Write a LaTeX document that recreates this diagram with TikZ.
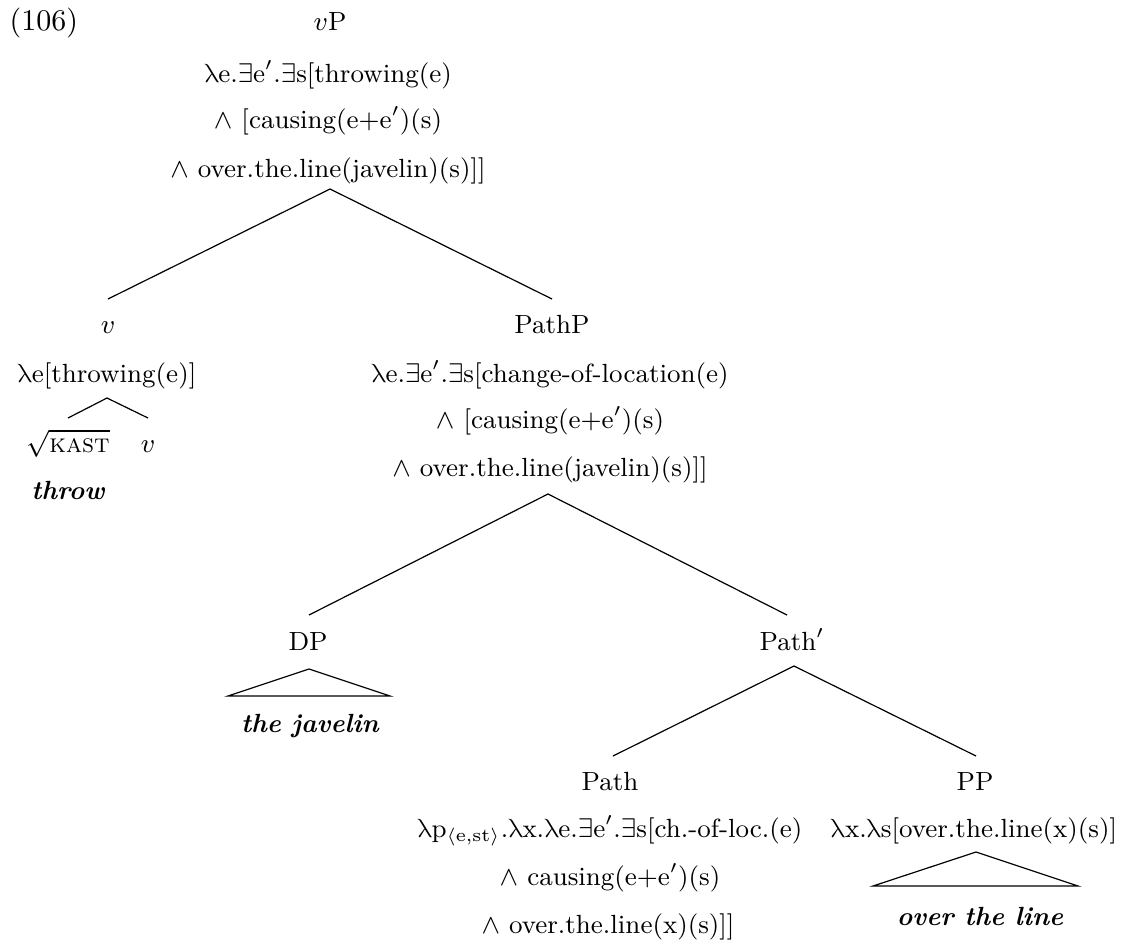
\documentclass[tikz,border=0pt]{standalone}
\usepackage{amsmath}
\usepackage{fontspec}
\newfontfamily\lmmathfont{Latin Modern Math}
\newcommand{\lam}{{\lmmathfont λ}}
\begin{document}
\begin{tikzpicture}[x=0.3333pt,y=-0.3333pt,
  lbl/.style={anchor=base,inner sep=0pt,outer sep=0pt,font=\fontsize{8.76}{10.5}\selectfont},
  branch/.style={line width=0.4pt},
  leafword/.style={lbl,font=\fontsize{8.76}{10.5}\selectfont\bfseries\itshape}]
\useasboundingbox (0,0) rectangle (1125,944);
% example number
\node[anchor=base west,inner sep=0pt] (ex) at (9,30) {(106)};
% vP
\node[lbl] (vP) at (330,30) {$v$P};
\node[lbl] (vPa) at (328,82) {\lam e.$\exists$e$'$.$\exists$s[throwing(e)};
\node[lbl] (vPb) at (328,128) {$\wedge$ [causing(e+e$'$)(s)};
\node[lbl] (vPc) at (328,177) {$\wedge$ over.the.line(javelin)(s)]]};
\coordinate (vPtop) at (330,189);
% v
\coordinate (vtop) at (108,299);
\node[lbl] (v) at (108,333) {$v$};
\node[lbl] (va) at (107,382) {\lam e[throwing(e)]};
\coordinate (vatop) at (107,398);
\coordinate (roottop) at (68,418);
\coordinate (vheadtop) at (148,418);
\node[lbl] (root) at (68,452) {$\sqrt{\textsc{kast}}$};
\node[lbl] (vhead) at (148,452) {$v$};
\node[leafword] (throw) at (68,499) {throw};
% PathP
\coordinate (PathPtop) at (552,299);
\node[lbl] (PathP) at (552,333) {PathP};
\node[lbl] (PathPa) at (550,382) {\lam e.$\exists$e$'$.$\exists$s[change-of-location(e)};
\node[lbl] (PathPb) at (550,428) {$\wedge$ [causing(e+e$'$)(s)};
\node[lbl] (PathPc) at (550,476) {$\wedge$ over.the.line(javelin)(s)]]};
\coordinate (PathPbot) at (548,494);
% DP
\coordinate (DPtop) at (309,615);
\node[lbl] (DP) at (308,650) {DP};
\coordinate (DPa) at (309,669);
\coordinate (DPl) at (228,696);
\coordinate (DPr) at (390,696);
\node[leafword] (jav) at (310,732) {the javelin};
% Path'
\coordinate (Pathbartop) at (787,615);
\node[lbl] (Pathbar) at (792,650) {Path$'$};
\coordinate (Pathbarbot) at (794,666);
% Path
\coordinate (Pathtop) at (613,756);
\node[lbl] (Path) at (610,790) {Path};
\node[lbl] (Patha) at (610,837) {\lam p$_{\langle\text{e,st}\rangle}$.\lam x.\lam e.$\exists$e$'$.$\exists$s[ch.-of-loc.(e)};
\node[lbl] (Pathb) at (610,885) {$\wedge$ causing(e+e$'$)(s)};
\node[lbl] (Pathc) at (608,933) {$\wedge$ over.the.line(x)(s)]]};
% PP
\coordinate (PPtop) at (976,756);
\node[lbl] (PP) at (975,790) {PP};
\node[lbl] (PPa) at (974,837) {\lam x.\lam s[over.the.line(x)(s)]};
\coordinate (PPapex) at (976,852);
\coordinate (PPl) at (873,886);
\coordinate (PPr) at (1078,886);
\node[leafword] (otl) at (980,925) {over the line};
% branches
\draw[branch] (vtop) -- (vPtop) -- (PathPtop);
\draw[branch] (roottop) -- (vatop) -- (vheadtop);
\draw[branch] (DPtop) -- (PathPbot) -- (Pathbartop);
\draw[branch] (Pathtop) -- (Pathbarbot) -- (PPtop);
\draw[branch] (DPa) -- (DPl) -- (DPr) -- cycle;
\draw[branch] (PPapex) -- (PPl) -- (PPr) -- cycle;
\end{tikzpicture}
\end{document}
